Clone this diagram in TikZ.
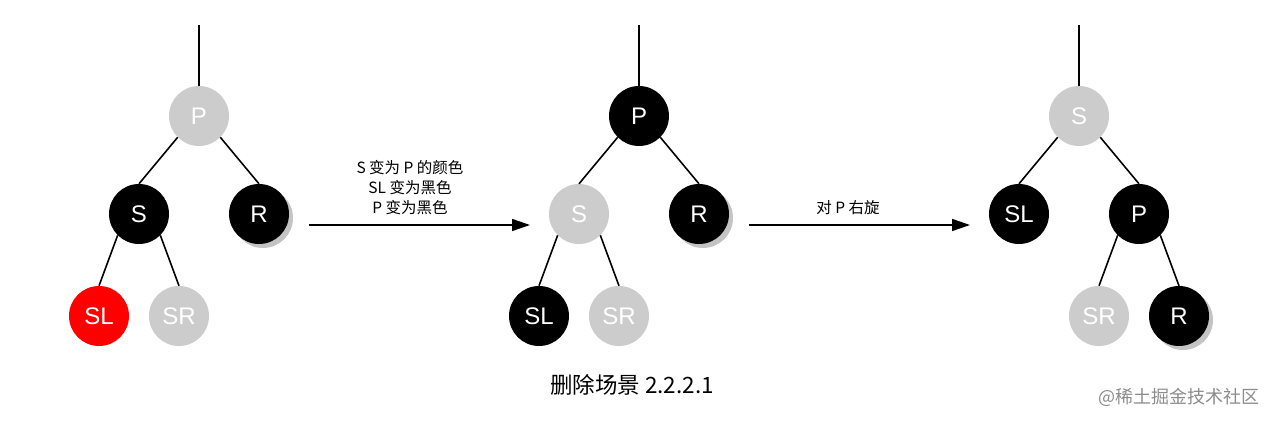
\documentclass[tikz,border=0pt]{standalone}
\usepackage{fontspec}
\setmainfont{Liberation Sans}
\setsansfont{Liberation Sans}
\newfontfamily\cjk{Noto Sans CJK SC}
\usetikzlibrary{arrows.meta,shadows}
\definecolor{ngray}{HTML}{CCCCCC}
\definecolor{nred}{HTML}{FF0000}
\definecolor{shgray}{HTML}{C4C4C4}
\begin{document}
\begin{tikzpicture}[x=1pt,y=-1pt,
  rb/.style={circle,minimum size=60pt,inner sep=0pt,text=white,font=\fontsize{24}{26}\selectfont},
  blk/.style={rb,fill=black},
  gry/.style={rb,fill=ngray},
  red/.style={rb,fill=nred},
  shd/.style={drop shadow={shadow xshift=4pt,shadow yshift=-4pt,opacity=1,fill=shgray}},
  edge/.style={line width=1.6pt},
  arr/.style={line width=1.6pt,-{Triangle[length=18pt,width=12pt]}},
  lbl/.style={font=\cjk\fontsize{15.5}{20}\selectfont,align=center}]
\useasboundingbox (0,0) rectangle (1278,422);
% tree 1
\coordinate (t1) at (199,25);
\node[gry] (p1) at (199,116) {P};
\node[blk] (s1) at (139,214) {S};
\node[blk,shd] (r1) at (259,214) {R};
\node[red] (sl1) at (99,316) {SL};
\node[gry] (sr1) at (179,316) {SR};
\draw[edge] (t1) -- (p1.north);
\draw[edge] (p1.south west) -- (s1.north);
\draw[edge] (p1.south east) -- (r1.north);
\draw[edge] (s1.south west) -- (sl1.north);
\draw[edge] (s1.south east) -- (sr1.north);
% tree 2
\coordinate (t2) at (639,25);
\node[blk] (p2) at (639,116) {P};
\node[gry] (s2) at (579,214) {S};
\node[blk,shd] (r2) at (699,214) {R};
\node[blk] (sl2) at (539,316) {SL};
\node[gry] (sr2) at (619,316) {SR};
\draw[edge] (t2) -- (p2.north);
\draw[edge] (p2.south west) -- (s2.north);
\draw[edge] (p2.south east) -- (r2.north);
\draw[edge] (s2.south west) -- (sl2.north);
\draw[edge] (s2.south east) -- (sr2.north);
% tree 3
\coordinate (t3) at (1079,25);
\node[gry] (s3) at (1079,116) {S};
\node[blk] (sl3) at (1019,214) {SL};
\node[blk] (p3) at (1139,214) {P};
\node[gry] (sr3) at (1099,316) {SR};
\node[blk,shd] (r3) at (1179,316) {R};
\draw[edge] (t3) -- (s3.north);
\draw[edge] (s3.south west) -- (sl3.north);
\draw[edge] (s3.south east) -- (p3.north);
\draw[edge] (p3.south west) -- (sr3.north);
\draw[edge] (p3.south east) -- (r3.north);
% arrows
\coordinate (a1s) at (309,225);
\coordinate (a1e) at (530,225);
\coordinate (a2s) at (749,225);
\coordinate (a2e) at (970,225);
\draw[arr] (a1s) -- (a1e);
\draw[arr] (a2s) -- (a2e);
\node[lbl] (l1) at (410,188) {S 变为 P 的颜色\\SL 变为黑色\\P 变为黑色};
\node[lbl] (l2) at (848,208) {对 P 右旋};
% captions
\node[font=\cjk\fontsize{22.5}{26}\selectfont] (title) at (632,385) {删除场景 2.2.2.1};
\node[font=\cjk\fontsize{18}{22}\selectfont,text=black!45,anchor=east] (wm) at (1263,397) {@稀土掘金技术社区};
\end{tikzpicture}
\end{document}
